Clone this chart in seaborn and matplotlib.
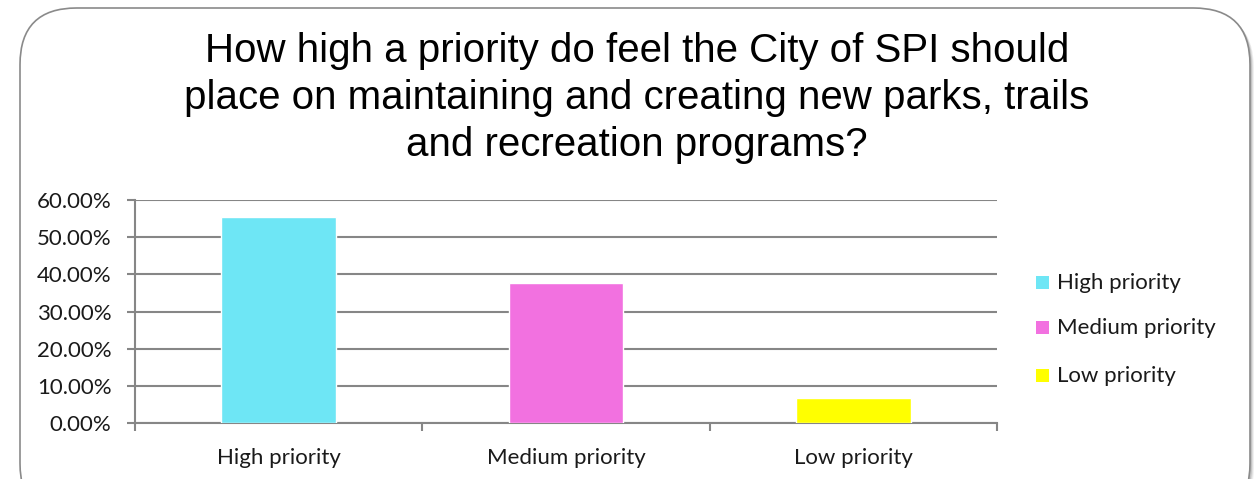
import matplotlib
matplotlib.use("Agg")
import matplotlib.pyplot as plt
from matplotlib.patches import FancyBboxPatch
from matplotlib.ticker import FuncFormatter, FixedLocator
import seaborn as sns
import pandas as pd

categories = ["High priority", "Medium priority", "Low priority"]
shares = [55.56, 37.78, 6.67]
colors = ["#6EE6F5", "#F271E0", "#FFFF00"]
title = ("How high a priority do feel the City of SPI should\n"
         "place on maintaining and creating new parks, trails\n"
         "and recreation programs?")

sns.set_theme(style="white")
plt.rcParams["font.family"] = ["Lato", "DejaVu Sans"]

fig = plt.figure(figsize=(12.56, 4.79), dpi=100)
W, H = 1256, 479

# rounded chart frame with a soft shadow
for off, alpha in [(4, 0.06), (3, 0.08), (2, 0.12)]:
    fig.patches.append(FancyBboxPatch(
        ((20 + off) / W, (479 - 520 - off) / H), 1230 / W, 512 / H,
        boxstyle="round,pad=0,rounding_size=0.045", transform=fig.transFigure,
        facecolor="black", edgecolor="none", alpha=alpha, zorder=0,
        mutation_aspect=W / H))
fig.patches.append(FancyBboxPatch(
    (20 / W, (479 - 520) / H), 1230 / W, 512 / H,
    boxstyle="round,pad=0,rounding_size=0.045", transform=fig.transFigure,
    facecolor="white", edgecolor="#8a8a8a", linewidth=1.2, zorder=1,
    mutation_aspect=W / H))

ax = fig.add_axes([135 / W, 56 / H, 862 / W, 223 / H])
ax.set_zorder(2)
ax.patch.set_alpha(0)

df = pd.DataFrame({"category": categories, "share": shares})
sns.barplot(data=df, x="category", y="share", hue="category",
            palette=colors, width=0.4, dodge=False, legend=False,
            saturation=1, ax=ax, zorder=3)

ax.set_ylim(0, 60)
ax.set_xlim(-0.5, 2.5)
ax.yaxis.set_major_locator(FixedLocator([0, 10, 20, 30, 40, 50, 60]))
ax.yaxis.set_major_formatter(FuncFormatter(lambda v, p: f"{v:.2f}%"))
ax.grid(axis="y", color="#868686", linewidth=1.5)
ax.set_axisbelow(True)
ax.set_xlabel("")
ax.set_ylabel("")

for side in ["top", "right"]:
    ax.spines[side].set_visible(False)
for side in ["left", "bottom"]:
    ax.spines[side].set_color("#868686")
    ax.spines[side].set_linewidth(1.5)

ax.tick_params(axis="y", which="major", left=True, length=6, width=1.5,
               color="#868686", labelsize=16, labelcolor="#1a1a1a", pad=11)
ax.tick_params(axis="x", which="major", length=0, labelsize=16,
               labelcolor="#1a1a1a", pad=18)
ax.set_xticks([-0.5, 0.5, 1.5, 2.5], minor=True)
ax.tick_params(axis="x", which="minor", bottom=True, length=6, width=1.5,
               color="#868686")

fig.text(0.507, 1 - 32 / H, title, ha="center", va="top", fontsize=29,
         family=["Liberation Sans", "DejaVu Sans"], color="black",
         linespacing=1.3, zorder=5)

# legend
leg_y = [283, 328, 376]
for name, col, y in zip(categories, colors, leg_y):
    fig.patches.append(plt.Rectangle((1036 / W, (479 - y - 6) / H), 13 / W, 13 / H,
                                     transform=fig.transFigure, facecolor=col,
                                     edgecolor="none", zorder=5))
    fig.text(1057 / W, (479 - y) / H, name, ha="left", va="center",
             fontsize=16, color="#1a1a1a", zorder=5)

fig.savefig("out.png", dpi=100)
